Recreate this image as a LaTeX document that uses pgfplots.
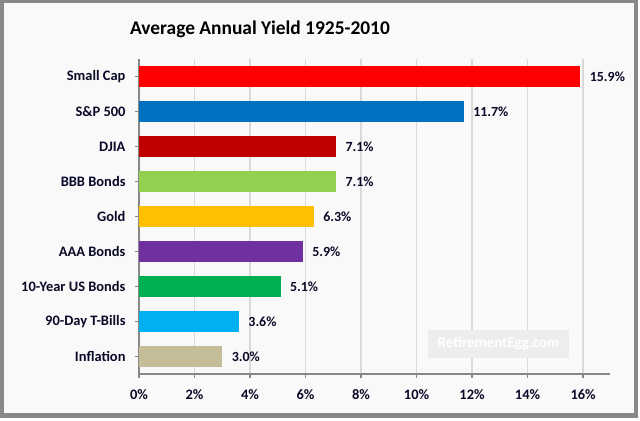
\documentclass[border=0pt]{standalone}
\usepackage{pgfplots}
\pgfplotsset{compat=1.18}
\usepackage{fontspec}
\setmainfont{Carlito}

\definecolor{bg}{HTML}{F9F9F9}
\definecolor{frame}{HTML}{888888}
\definecolor{txt}{HTML}{0A0A28}
\definecolor{cSmall}{HTML}{FF0000}
\definecolor{cSP}{HTML}{0070C0}
\definecolor{cDJIA}{HTML}{C00000}
\definecolor{cBBB}{HTML}{92D050}
\definecolor{cGold}{HTML}{FFC000}
\definecolor{cAAA}{HTML}{7030A0}
\definecolor{cTen}{HTML}{00B050}
\definecolor{cTB}{HTML}{00B0F0}
\definecolor{cInf}{HTML}{C4BD97}

\begin{document}
\begin{tikzpicture}[x=1bp,y=1bp]
  % frame and background
  \fill[white] (0,0) rectangle (640,420);
  \fill[frame] (0,2) rectangle (638,420);
  \fill[bg] (4,7) rectangle (634,417);

  \node[font=\fontsize{19.5}{22}\selectfont\bfseries, text=black] at (260,391) {Average Annual Yield 1925-2010};

  \begin{axis}[
      at={(139bp,46bp)}, anchor=south west,
      width=471bp, height=315bp, scale only axis,
      xbar, bar width=21bp, bar shift=0pt,
      xmin=0, xmax=16.97, ymin=-0.5, ymax=8.5,
      xtick={0,2,...,16},
      xticklabel={\pgfmathprintnumber{\tick}\%},
      ytick={0,...,8},
      yticklabels={Inflation,90-Day T-Bills,10-Year US Bonds,AAA Bonds,Gold,BBB Bonds,DJIA,S\&P 500,Small Cap},
      axis x line*=bottom, axis y line*=left,
      axis line style={frame, line width=1.5bp},
      tick style={frame, line width=1.2bp},
      major tick length=4bp, tick align=outside,
      xmajorgrids, grid style={gray!30, line width=1.2bp},
      ticklabel style={font=\fontsize{14.5}{16}\selectfont\bfseries, text=txt},
      xticklabel style={yshift=-8bp},
      yticklabel style={xshift=-6bp},
      /pgf/number format/assume math mode=true,
      nodes near coords={\pgfmathprintnumber[fixed,fixed zerofill,precision=1]{\pgfplotspointmeta}\%},
      nodes near coords style={font=\fontsize{14}{16}\selectfont\bfseries, text=txt, anchor=west, xshift=6bp},
      point meta=explicit symbolic,
      clip=false,
    ]
    \addplot[fill=cInf, draw=none] coordinates {(3.0,0) [3.0]};
    \addplot[fill=cTB, draw=none] coordinates {(3.6,1) [3.6]};
    \addplot[fill=cTen, draw=none] coordinates {(5.1,2) [5.1]};
    \addplot[fill=cAAA, draw=none] coordinates {(5.9,3) [5.9]};
    \addplot[fill=cGold, draw=none] coordinates {(6.3,4) [6.3]};
    \addplot[fill=cBBB, draw=none] coordinates {(7.1,5) [7.1]};
    \addplot[fill=cDJIA, draw=none] coordinates {(7.1,6) [7.1]};
    \addplot[fill=cSP, draw=none] coordinates {(11.7,7) [11.7]};
    \addplot[fill=cSmall, draw=none] coordinates {(15.9,8) [15.9]};
  \end{axis}

  % watermark box
  \fill[gray!14] (428,62) rectangle (569,90);
  \node[font=\fontsize{15}{17}\selectfont\bfseries, text=white] at (498.5,76) {RetirementEgg.com};
\end{tikzpicture}
\end{document}
